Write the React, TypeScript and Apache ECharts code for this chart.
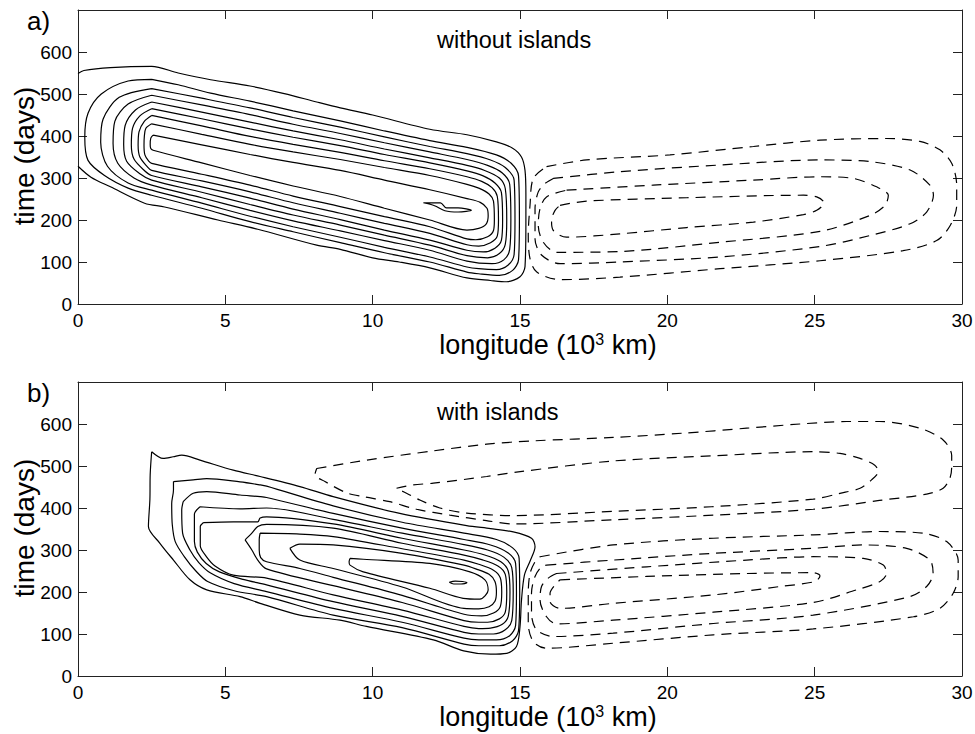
import React, { useEffect, useRef } from "react";
import * as echarts from "echarts";

// ---------- axes ----------
const xTicks = [0, 5, 10, 15, 20, 25, 30];
const yTicks = [0, 100, 200, 300, 400, 500, 600, 700];
const panelLabels = ["a)", "b)"];
const panelTitles = ["without islands", "with islands"];
const xTitle = "longitude (10";
const xTitleSup = "3";
const xTitleEnd = " km)";
const yTitle = "time (days)";

// ---------- panel a: solid contours (outer -> inner) ----------
const a1 = [[0,549],[0.2,556],[1.1,563],[2.5,566],[3.4,550],[4.5,534],[5.84,519],[7,501],[8.1,481],[8.9,467],[10,450],[11.94,416],[13.2,403],[14.2,386],[14.75,371],[15.05,350],[15.17,318],[15.2,260],[15.2,200],[15.17,89],[15.0,65],[14.55,53],[14.0,56],[13.2,62],[11.94,86],[10.9,100],[10,110],[8.9,130],[8.1,140],[6.1,178],[4.75,200],[2.94,231],[2.26,240],[1.1,279],[0.44,302],[0,328]];
const a2 = [[2.5,535],[3.4,522],[4.5,502],[5.84,483],[7.3,460],[8.9,436],[10.4,412],[11.94,389],[13.2,373],[14.2,355],[14.7,335],[14.95,305],[14.98,200],[14.95,105],[14.75,80],[14.3,68],[13.6,72],[13.2,76],[11.94,100],[10.4,122],[8.9,146],[7.3,172],[5.84,196],[4.2,228],[2.5,259],[1.7,276],[0.9,306],[0.34,342],[0.23,397],[0.34,454],[0.79,500],[1.7,531],[2.5,535]];
const a3 = [[2.5,513],[4.2,490],[5.84,467],[7.3,444],[8.9,421],[10.4,398],[11.94,375],[13.2,358],[14.0,343],[14.5,325],[14.8,295],[14.83,200],[14.8,118],[14.6,93],[14.2,82],[13.6,84],[13.2,88],[11.94,112],[10.4,135],[8.9,159],[7.3,184],[5.84,209],[4.2,240],[2.5,271],[1.7,288],[1.0,328],[0.77,385],[0.85,440],[1.4,492],[2.5,513]];
const a4 = [[2.5,497],[4.2,474],[5.84,451],[7.3,428],[8.9,406],[10.4,384],[11.94,362],[13.2,344],[13.9,330],[14.4,312],[14.65,285],[14.69,200],[14.65,130],[14.45,105],[14.05,96],[13.2,102],[11.94,128],[10.4,151],[8.9,174],[7.3,198],[5.84,223],[4.2,253],[2.5,283],[1.9,300],[1.35,335],[1.19,382],[1.25,435],[1.7,476],[2.5,497]];
const a5 = [[2.5,481],[4.2,457],[5.84,433],[7.3,412],[8.9,391],[10.4,369],[11.94,348],[13.2,330],[13.8,318],[14.3,300],[14.5,275],[14.55,200],[14.5,142],[14.3,120],[13.9,110],[13.2,115],[11.94,140],[10.4,164],[8.9,188],[7.3,212],[5.84,237],[4.2,266],[2.5,295],[2.1,310],[1.65,340],[1.55,380],[1.6,425],[1.95,462],[2.5,481]];
const a6 = [[2.5,465],[4.2,441],[5.84,417],[7.3,397],[8.9,377],[10.4,356],[11.94,336],[13.2,317],[13.75,305],[14.15,288],[14.37,265],[14.41,200],[14.37,152],[14.15,133],[13.75,124],[13.2,128],[11.94,152],[10.4,176],[8.9,201],[7.3,226],[5.84,252],[4.2,279],[2.5,306],[2.25,318],[1.9,345],[1.81,378],[1.85,418],[2.1,448],[2.5,465]];
const a7 = [[2.5,449],[4.2,424],[5.84,399],[7.3,380],[8.9,361],[10.4,341],[11.94,322],[13.2,303],[13.7,292],[14.05,277],[14.23,256],[14.27,200],[14.23,162],[14.0,146],[13.6,138],[13.2,141],[11.94,168],[10.4,192],[8.9,216],[7.3,241],[5.84,267],[4.2,293],[2.5,318],[2.35,327],[2.1,350],[2.04,378],[2.07,410],[2.25,435],[2.5,449]];
const a8 = [[2.5,429],[4.2,404],[5.84,380],[7.3,362],[8.9,344],[10.4,325],[11.94,306],[13.2,285],[13.6,276],[13.95,262],[14.1,245],[14.13,200],[14.1,175],[13.9,160],[13.5,153],[13.2,155],[11.94,184],[10.4,208],[8.9,232],[7.3,257],[5.84,283],[4.2,309],[2.5,335],[2.4,340],[2.27,355],[2.24,378],[2.25,398],[2.3,418],[2.5,429]];
const a9 = [[2.55,402],[4.2,379],[5.84,356],[7.3,337],[8.9,318],[10.4,295],[11.94,272],[13.2,251],[13.65,242],[13.88,228],[13.92,210],[13.85,190],[13.6,180],[13.2,176],[11.94,200],[10.4,228],[8.9,256],[7.3,281],[5.84,306],[4.2,336],[2.55,366],[2.47,370],[2.45,380],[2.47,395],[2.55,402]];
const aIsland = [[11.72,241],[12.3,241],[12.5,229],[12.9,229],[13.35,223],[12.9,219],[12.45,222],[12.1,234],[11.72,241]];

// ---------- panel a: dashed contours (outer -> inner) ----------
const aD1 = [[15.9,327],[17.26,343],[20.09,355],[22.92,375],[25.18,390],[27.44,394],[28.57,387],[29.25,367],[29.65,335],[29.82,283],[29.82,235],[29.6,187],[29.14,151],[28.0,127],[25.18,103],[21.79,84],[18.39,64],[16.36,58],[15.57,76],[15.34,108],[15.28,163],[15.34,235],[15.45,299],[15.9,327]];
const aD2 = [[16.13,299],[18.39,315],[21.79,331],[25.18,343],[26.88,339],[28.24,319],[28.91,283],[29.03,259],[28.8,219],[28.24,191],[26.88,163],[25.18,137],[21.79,112],[18.39,100],[16.36,96],[15.74,116],[15.51,155],[15.51,227],[15.62,267],[15.85,287],[16.13,299]];
const aD3 = [[16.58,271],[19.52,283],[22.92,295],[25.18,303],[26.31,299],[27.1,279],[27.5,259],[27.39,235],[26.88,211],[25.18,173],[21.79,147],[18.39,125],[16.24,123],[15.79,147],[15.62,187],[15.68,227],[15.9,255],[16.58,271]];
const aD4 = [[16.36,235],[17.26,245],[20.66,253],[24.62,259],[25.07,255],[25.32,241],[25.07,223],[24.62,213],[22.92,195],[20.66,182],[18.39,167],[16.58,159],[16.13,175],[16.07,199],[16.19,223],[16.36,235]];

// ---------- panel b: solid contours (outer -> inner) ----------
const b1 = [[2.5,534],[2.89,518],[3.23,522],[3.52,526],[4.14,514],[5.27,490],[6.18,475],[7.53,451],[8.66,427],[10.92,387],[13.19,358],[14.0,351],[14.77,343],[15.39,328],[15.51,308],[15.35,275],[15.15,240],[15.05,180],[15.0,117],[14.88,70],[14.55,54],[14.0,52],[13.09,60],[12.06,86],[9.79,118],[8.89,133],[7.53,145],[6.18,173],[5.5,189],[4.37,205],[3.8,229],[3.24,276],[2.78,316],[2.39,356],[2.44,420],[2.45,480],[2.5,534]];
const b2 = [[3.24,463],[3.91,467],[4.37,470],[5.5,462],[6.18,455],[6.4,452],[8.66,405],[11.0,366],[13.1,340],[14.2,325],[14.75,305],[14.97,280],[14.99,200],[14.95,108],[14.75,84],[14.3,72],[13.6,72],[13.1,76],[11.0,115],[8.66,145],[6.4,189],[5.3,203],[4.4,225],[4.0,250],[3.6,285],[3.3,320],[3.2,360],[3.18,411],[3.24,443],[3.24,463]];
const b3 = [[3.57,415],[3.91,435],[4.37,439],[5.5,431],[6.18,427],[6.4,425],[8.66,387],[11.0,352],[13.1,325],[14.0,312],[14.6,293],[14.85,268],[14.88,200],[14.85,120],[14.65,96],[14.2,86],[13.6,86],[13.1,90],[11.0,128],[8.66,161],[6.4,201],[5.3,220],[4.5,245],[4.1,270],[3.8,300],[3.55,340],[3.52,395],[3.57,415]];
const b4 = [[4.14,403],[5.5,398],[6.4,400],[8.66,373],[11.0,340],[13.1,313],[13.9,300],[14.45,283],[14.72,258],[14.77,200],[14.72,132],[14.5,110],[14.1,100],[13.6,100],[13.1,104],[11.0,142],[8.66,177],[6.4,217],[5.6,230],[4.8,248],[4.35,268],[4.05,295],[3.95,320],[3.95,385],[4.14,403]];
const b5 = [[4.25,365],[5.27,367],[6.1,367],[6.18,376],[6.4,379],[8.66,362],[11.0,328],[13.1,300],[13.8,288],[14.35,272],[14.6,250],[14.66,200],[14.6,142],[14.4,123],[14.0,114],[13.6,113],[13.1,118],[11.0,157],[8.66,193],[6.4,233],[5.27,240],[4.65,262],[4.35,285],[4.15,310],[4.15,356],[4.25,365]];
const b6 = [[5.67,324],[5.9,340],[6.1,356],[6.4,361],[8.66,352],[11.0,316],[13.1,288],[13.7,277],[14.25,262],[14.5,242],[14.55,200],[14.5,152],[14.3,136],[13.9,128],[13.6,128],[13.1,132],[11.0,175],[8.66,215],[6.4,255],[6.1,276],[5.9,300],[5.67,324]];
const b7 = [[6.18,340],[7.53,338],[8.66,332],[11.0,303],[13.1,276],[13.6,266],[14.1,252],[14.33,234],[14.38,200],[14.33,165],[14.1,150],[13.7,143],[13.1,147],[11.0,192],[8.66,235],[7.53,256],[6.4,272],[6.2,282],[6.15,300],[6.15,325],[6.18,340]];
const b8 = [[7.19,304],[7.53,314],[8.66,312],[11.0,292],[13.1,264],[13.5,255],[13.95,242],[14.15,225],[14.2,200],[14.15,178],[13.95,165],[13.6,160],[13.1,161],[11.0,212],[8.66,256],[7.53,276],[7.19,304]];
const b9 = [[9.23,280],[9.68,278],[11.94,268],[13.3,248],[13.81,229],[13.92,205],[13.64,183],[13.07,185],[11.94,209],[9.68,248],[9.23,264],[9.2,272],[9.23,280]];
const bIsland = [[12.6,223],[12.8,226],[13.05,225],[13.2,222],[13.0,219],[12.75,219],[12.6,223]];

// ---------- panel b: dashed contours ----------
const bE1 = [[8.1,494],[9.79,514],[12.06,536],[13.87,552],[15.5,560],[18.16,568],[20.5,578],[22.69,590],[24.5,600],[26.08,606],[27.2,606],[28.57,590],[29.36,562],[29.65,525],[29.65,498],[29.59,471],[29.36,447],[28.8,433],[27.2,418],[24.95,397],[21.56,383],[18.16,372],[14.77,362],[13.86,370],[12.62,383],[11.49,397],[10.58,415],[9.68,427],[9.12,436],[8.38,463],[8.04,479],[8.1,494]];
const bE2 = [[10.81,447],[11.38,455],[12.06,459],[13.87,475],[14.94,486],[18.16,512],[21.5,524],[24.95,534],[25.86,530],[26.54,518],[27.04,502],[27.16,487],[26.93,467],[26.54,447],[25.86,435],[24.95,421],[21.5,403],[18.16,392],[14.77,382],[13.19,388],[12.28,400],[11.6,419],[11.26,431],[10.81,447]];
const bF1 = [[15.68,284],[18.16,312],[21.56,328],[24.95,336],[27.2,344],[28.68,340],[29.48,320],[29.87,276],[29.87,237],[29.7,197],[29.25,161],[28.35,141],[24.95,112],[21.56,98],[18.16,78],[15.9,66],[15.45,82],[15.28,125],[15.28,197],[15.34,244],[15.51,272],[15.68,284]];
const bF2 = [[15.9,264],[18.16,276],[21.56,292],[24.95,304],[26.65,312],[28.12,304],[28.91,276],[29.02,244],[28.8,213],[28.23,189],[24.95,145],[21.56,125],[18.16,102],[16.13,94],[15.56,110],[15.39,149],[15.39,197],[15.51,237],[15.73,260],[15.9,264]];
const bF3 = [[16.24,244],[19.3,260],[22.69,276],[24.95,284],[26.65,280],[27.33,264],[27.44,244],[27.22,225],[26.42,205],[24.95,175],[21.56,152],[18.16,133],[16.24,124],[15.9,141],[15.68,181],[15.73,213],[15.96,233],[16.24,244]];
const bF4 = [[16.36,229],[19.3,237],[22.69,244],[24.95,246],[25.18,238],[25.01,225],[23.82,213],[21.56,193],[18.16,173],[16.36,161],[16.02,177],[16.02,197],[16.19,217],[16.36,229]];

const solidA = [a1, a2, a3, a4, a5, a6, a7, a8, a9, aIsland];
const dashedA = [aD1, aD2, aD3, aD4];
const solidB = [b1, b2, b3, b4, b5, b6, b7, b8, b9, bIsland];
const dashedB = [bE1, bE2, bF1, bF2, bF3, bF4];

const FONT = '"Liberation Sans", Arial, Helvetica, sans-serif';
const W = 975;
const H = 734;
const GRID_LEFT = 78;
const GRID_W = 884;
const GRID_H = 294;
const GRID_TOPS = [10, 382];

function makeAxes(panel: number) {
  const base = {
    type: "value" as const,
    gridIndex: panel,
    splitLine: { show: false },
    axisLine: { show: true, onZero: false, lineStyle: { color: "#222", width: 1 } },
    axisTick: { show: true, inside: true, length: 9, lineStyle: { color: "#222", width: 1 } },
  };
  const xLabel = {
    show: true,
    color: "#000",
    fontSize: 19,
    fontFamily: FONT,
    margin: 7,
  };
  const xs = [
    { ...base, position: "bottom", min: xTicks[0], max: xTicks[xTicks.length - 1], interval: 5, axisLabel: xLabel },
    { ...base, position: "top", min: xTicks[0], max: xTicks[xTicks.length - 1], interval: 5, axisLabel: { show: false } },
  ];
  const ys = [
    {
      ...base,
      position: "left",
      min: yTicks[0],
      max: yTicks[yTicks.length - 1],
      interval: 100,
      axisLabel: {
        show: true,
        color: "#000",
        fontSize: 19,
        fontFamily: FONT,
        margin: 6,
        formatter: (v: number) => (v === 700 ? "" : String(v)),
      },
    },
    { ...base, position: "right", min: yTicks[0], max: yTicks[yTicks.length - 1], interval: 100, axisLabel: { show: false } },
  ];
  return { xs, ys };
}

function contourSeries(data: number[][], dashed: boolean, panel: number) {
  return {
    type: "line",
    xAxisIndex: panel * 2,
    yAxisIndex: panel * 2,
    data,
    symbol: "none",
    showSymbol: false,
    smooth: 0.3,
    silent: true,
    lineStyle: { color: "#000", width: 1.2, type: dashed ? [10, 7] : "solid" },
    z: 3,
  };
}

export default function App() {
  const ref = useRef<HTMLDivElement>(null);

  useEffect(() => {
    if (!ref.current) return;
    const chart = echarts.init(ref.current, null, { renderer: "svg", width: W, height: H });
    const a = makeAxes(0);
    const b = makeAxes(1);

    const series: any[] = [];
    solidA.forEach((d) => series.push(contourSeries(d, false, 0)));
    dashedA.forEach((d) => series.push(contourSeries(d, true, 0)));
    solidB.forEach((d) => series.push(contourSeries(d, false, 1)));
    dashedB.forEach((d) => series.push(contourSeries(d, true, 1)));

    const graphics: any[] = [];
    GRID_TOPS.forEach((top, i) => {
      const bottom = top + GRID_H;
      graphics.push({
        type: "text",
        x: 27,
        y: top + 11,
        style: { text: panelLabels[i], fontSize: 26, fontFamily: FONT, fill: "#000", verticalAlign: "middle", align: "left" },
      });
      graphics.push({
        type: "text",
        x: 437,
        y: top + 30,
        style: { text: panelTitles[i], fontSize: 23.5, fontFamily: FONT, fill: "#000", verticalAlign: "middle", align: "left" },
      });
      graphics.push({
        type: "text",
        x: 548,
        y: bottom + 44,
        style: {
          text: "{m|" + xTitle + "}{s|" + xTitleSup + "}{m|" + xTitleEnd + "}",
          align: "center",
          verticalAlign: "middle",
          rich: {
            m: { fontSize: 27, fontFamily: FONT, fill: "#000", lineHeight: 34, verticalAlign: "top" },
            s: { fontSize: 16, fontFamily: FONT, fill: "#000", lineHeight: 20, verticalAlign: "top" },
          },
        },
      });
      graphics.push({
        type: "text",
        x: 24,
        y: top + 146,
        rotation: Math.PI / 2,
        style: { text: yTitle, fontSize: 28, fontFamily: FONT, fill: "#000", align: "center", verticalAlign: "middle" },
      });
    });

    chart.setOption({
      animation: false,
      backgroundColor: "#fff",
      grid: GRID_TOPS.map((top) => ({
        left: GRID_LEFT,
        top,
        width: GRID_W,
        height: GRID_H,
        containLabel: false,
        outerBoundsMode: "none",
        show: false,
      })),
      xAxis: [...a.xs, ...b.xs],
      yAxis: [...a.ys, ...b.ys],
      series,
      graphic: graphics,
    });
    return () => chart.dispose();
  }, []);

  return (
    <div
      ref={ref}
      style={{ position: "fixed", left: 0, top: 0, width: W, height: H, background: "#fff" }}
    />
  );
}
